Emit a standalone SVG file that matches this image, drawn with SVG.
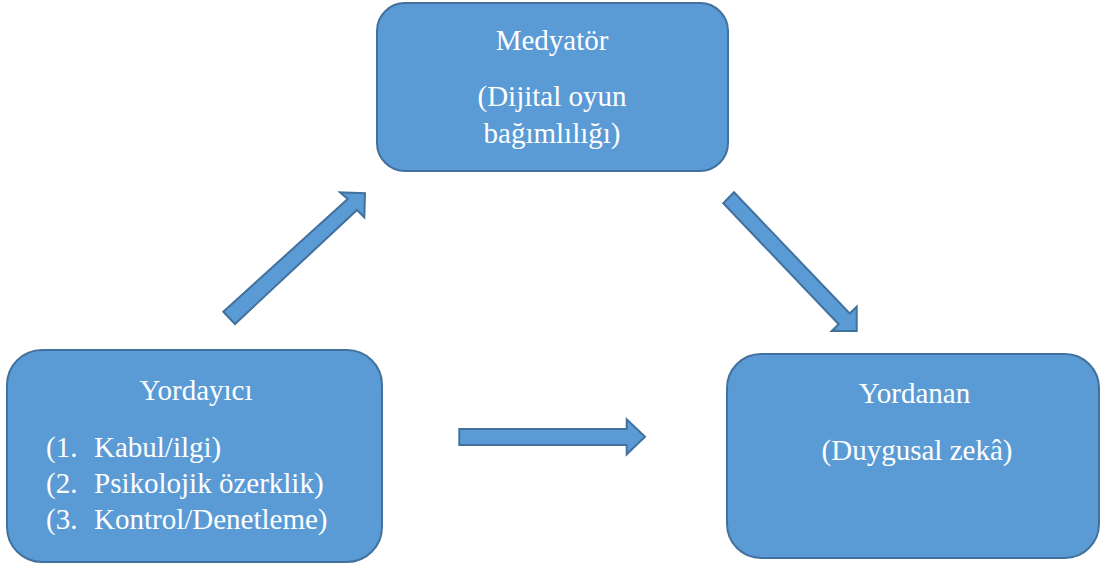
<svg xmlns="http://www.w3.org/2000/svg" width="1101" height="565" viewBox="0 0 1101 565">
<style>
.box{fill:#5B9BD5;stroke:#41719C;stroke-width:2}
.arr{fill:#5B9BD5;stroke:#41719C;stroke-width:2;stroke-linejoin:miter}
.t{font-family:'Liberation Serif','Times New Roman',Times,serif;font-size:29px;fill:#FFFFFF}
.c{text-anchor:middle}
</style>
<rect width="1101" height="565" fill="#FFFFFF"/>
<g id="connectors">
<polygon class="arr" points="223.3,311.7 347.7,199 340,192.3 365,193.3 364.3,217.3 357,210 235,324"/>
<polygon class="arr" points="723.3,203.3 734,192.3 849.7,313.5 856.7,306.7 856.7,331 831.7,331 838.7,324.2"/>
<polygon class="arr" points="459.3,429 626.7,429 626.7,419.3 645,436.7 626.7,454.3 626.7,445 459.3,445"/>
</g>
<g id="mediator">
<rect class="box" x="377" y="3" width="351" height="168" rx="28" ry="28"/>
<g class="t" font-family="Liberation Serif, serif">
<text class="c" x="552" y="50">Medyatör</text>
<text class="c" x="552" y="106">(Dijital oyun</text>
<text class="c" x="552" y="143">bağımlılığı)</text>
</g>
</g>
<g id="predictor">
<rect class="box" x="7" y="350" width="375" height="212" rx="35" ry="35"/>
<g class="t" font-family="Liberation Serif, serif">
<text class="c" x="196" y="400">Yordayıcı</text>
<text x="46" y="457">(1.<tspan x="94">Kabul/ilgi)</tspan></text>
<text x="46" y="493">(2.<tspan x="94">Psikolojik özerklik)</tspan></text>
<text x="46" y="529">(3.<tspan x="94">Kontrol/Denetleme)</tspan></text>
</g>
</g>
<g id="outcome">
<rect class="box" x="727" y="354" width="372" height="204" rx="34" ry="34"/>
<g class="t" font-family="Liberation Serif, serif">
<text class="c" x="914.5" y="403">Yordanan</text>
<text class="c" x="917" y="460">(Duygusal zekâ)</text>
</g>
</g>
</svg>
